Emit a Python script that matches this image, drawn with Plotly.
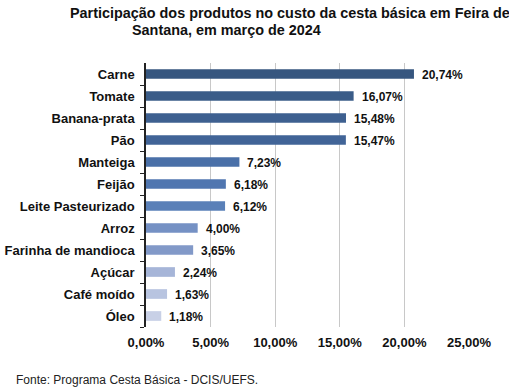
import plotly.graph_objects as go

categories = ["Carne", "Tomate", "Banana-prata", "Pão", "Manteiga", "Feijão",
              "Leite Pasteurizado", "Arroz", "Farinha de mandioca", "Açúcar",
              "Café moído", "Óleo"]
values = [20.74, 16.07, 15.48, 15.47, 7.23, 6.18, 6.12, 4.00, 3.65, 2.24, 1.63, 1.18]
value_labels = ["20,74%", "16,07%", "15,48%", "15,47%", "7,23%", "6,18%",
                "6,12%", "4,00%", "3,65%", "2,24%", "1,63%", "1,18%"]
bar_colors = ["#36567f", "#3a5c88", "#3e6090", "#416497", "#4a70a8", "#5076b0",
              "#5a80b8", "#7591c4", "#8299c8", "#a6b5d8", "#b8c4e0", "#c8d0e6"]
tick_vals = [0, 5, 10, 15, 20, 25]
tick_text = ["0,00%", "5,00%", "10,00%", "15,00%", "20,00%", "25,00%"]

FONT = "Liberation Sans, Arial, sans-serif"
PL, PT, PB = 146, 63, 327.5
PW, PH = 469 - 146, PB - PT

fig = go.Figure(go.Bar(
    x=values, y=categories, orientation="h",
    marker=dict(color=bar_colors, line=dict(width=0)),
    width=0.44, hoverinfo="skip",
))

for v, c, t in zip(values, categories, value_labels):
    fig.add_annotation(x=v, y=c, text="<b>%s</b>" % t, showarrow=False,
                       xanchor="left", xshift=6, yshift=-1,
                       font=dict(family=FONT, size=12, color="#111111"))

fig.add_annotation(xref="paper", yref="paper", x=(14 - PL) / PW, y=-(381 - PB) / PH,
                   xanchor="left", yanchor="middle",
                   text="Fonte: Programa Cesta Básica - DCIS/UEFS.", showarrow=False,
                   font=dict(family=FONT, size=12, color="#222222"))
fig.add_annotation(xref="paper", yref="paper", x=(68 - PL) / PW, y=(PB - 13) / PH,
                   xanchor="left", yanchor="middle",
                   text="<b>Participação dos produtos no custo da cesta básica em Feira de</b>",
                   showarrow=False, font=dict(family=FONT, size=14.4, color="#111111"))
fig.add_annotation(xref="paper", yref="paper", x=(130 - PL) / PW, y=(PB - 30) / PH,
                   xanchor="left", yanchor="middle",
                   text="<b>Santana, em março de 2024</b>",
                   showarrow=False, font=dict(family=FONT, size=14.4, color="#111111"))

fig.update_layout(
    width=509, height=390,
    margin=dict(l=PL, r=509 - 469, t=PT, b=390 - PB, autoexpand=False),
    paper_bgcolor="white", plot_bgcolor="white",
    showlegend=False,
    font=dict(family=FONT, color="#111111"),
    xaxis=dict(range=[0, 25], tickvals=tick_vals, ticktext=["<b>%s</b>" % t for t in tick_text],
               showgrid=True, gridcolor="#c8c8c8", gridwidth=1, zeroline=False,
               showline=False, ticks="", tickfont=dict(family=FONT, size=13, color="#111111"),
               ticklabelstandoff=6, fixedrange=True),
    yaxis=dict(categoryorder="array", categoryarray=categories[::-1],
               autorange=False, range=[-0.5, len(categories) - 0.5],
               tickvals=categories, ticktext=["<b>%s</b>" % c for c in categories],
               showline=True, linecolor="#222222", linewidth=1.5,
               ticks="outside", ticklen=4, tickcolor="#222222", tickson="boundaries",
               tickfont=dict(family=FONT, size=13, color="#111111"),
               ticklabelstandoff=7, showgrid=False, fixedrange=True),
)

fig.write_html("out.html", config={"displayModeBar": False},
               post_script="document.body.style.margin='0';document.body.style.padding='0';")
